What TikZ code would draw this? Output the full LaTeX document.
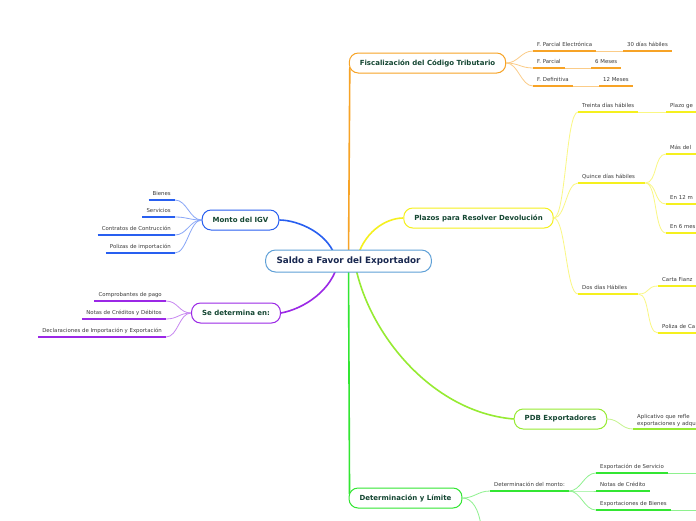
\documentclass[tikz,border=0pt]{standalone}
\usepackage{fontspec}
\setmainfont{DejaVu Sans}
\usetikzlibrary{calc,backgrounds}

\definecolor{rootblue}{RGB}{95,160,215}
\definecolor{rootnavy}{RGB}{25,40,80}
\definecolor{topictext}{RGB}{20,70,50}
\definecolor{leafgray}{RGB}{60,60,60}
\definecolor{fiscorange}{RGB}{247,163,38}
\definecolor{plazoyellow}{RGB}{245,240,30}
\definecolor{pdblime}{RGB}{150,235,50}
\definecolor{detgreen}{RGB}{50,230,50}
\definecolor{igvblue}{RGB}{40,95,240}
\definecolor{sepurple}{RGB}{155,40,230}

\tikzset{
  root/.style={draw=rootblue, line width=1pt, rounded corners=10pt, fill=white, text=rootnavy,
    font=\bfseries\fontsize{8.8}{10}\selectfont, minimum height=22pt, inner xsep=11pt},
  topic/.style={draw=#1, line width=1pt, rounded corners=9pt, fill=white, text=topictext,
    font=\bfseries\fontsize{7}{8}\selectfont, minimum height=20pt, inner xsep=10.5pt},
  leaf/.style={text=leafgray, font=\fontsize{5.4}{6.5}\selectfont, inner xsep=4pt, inner ysep=2.5pt},
  uline/.style={draw=#1, line width=2pt},
  twig/.style={draw=#1!55, line width=0.8pt},
  limb/.style={draw=#1, line width=1.6pt},
}

% leaf text with its coloured underline
\newcommand{\leafnode}[5][]{%
  \node[leaf, text height=4pt, text depth=1.5pt, #1] (#2) at (#4) {#5};
  \draw[uline=#3] (#2.south west) -- (#2.south east);
}

\begin{document}
\begin{tikzpicture}[x=1pt, y=-1pt]
  %%%%% FRAME %%%%%
  \clip (0,0) rectangle (696,520);

  %%%%% CENTRE AND TOPICS %%%%%
  \node[root] (root) at (348.5,261) {Saldo a Favor del Exportador};
  \node[topic=fiscorange] (fisc) at (427.5,63) {Fiscalización del Código Tributario};
  \node[topic=plazoyellow] (plazos) at (478.5,218) {Plazos para Resolver Devolución};
  \node[topic=pdblime] (pdb) at (560.5,419) {PDB Exportadores};
  \node[topic=detgreen] (det) at (405.5,498) {Determinación y Límite};
  \node[topic=igvblue] (monto) at (240.5,220) {Monto del IGV};
  \node[topic=sepurple] (se) at (236,313) {Se determina en:};

  %%%%% FISCALIZACION %%%%%
  \leafnode[anchor=south west]{fpe}{fiscorange}{533,51}{F. Parcial Electrónica}
  \leafnode[anchor=south west]{d30}{fiscorange}{623,51}{30 días hábiles}
  \leafnode[anchor=south west]{fp}{fiscorange}{533,68}{F. Parcial}
  \leafnode[anchor=south west]{m6}{fiscorange}{591,68}{6 Meses}
  \leafnode[anchor=south west]{fd}{fiscorange}{533,86}{F. Definitiva}
  \leafnode[anchor=south west]{m12}{fiscorange}{599,86}{12 Meses}

  %%%%% PLAZOS %%%%%
  \leafnode[anchor=south west]{treinta}{plazoyellow}{578,112}{Treinta días hábiles}
  \leafnode[anchor=south west, text width=60pt]{plazoge}{plazoyellow}{666,112}{Plazo ge}
  \leafnode[anchor=south west, text width=59pt]{quince}{plazoyellow}{578,183}{Quince días hábiles}
  \leafnode[anchor=south west, text width=60pt]{masdel}{plazoyellow}{666,154}{Más del}
  \leafnode[anchor=south west, text width=60pt]{en12}{plazoyellow}{666,204}{En 12 m}
  \leafnode[anchor=south west, text width=60pt]{en6}{plazoyellow}{666,233}{En 6 mes}
  \leafnode[anchor=south west, text width=52pt]{dos}{plazoyellow}{578,294}{Dos días Hábiles}
  \leafnode[anchor=south west, text width=60pt]{carta}{plazoyellow}{658,286}{Carta Fianz}
  \leafnode[anchor=south west, text width=60pt]{poliza}{plazoyellow}{658,333}{Poliza de Ca}

  %%%%% PDB %%%%%
  \node[leaf, anchor=south west, align=left, text width=60pt, font=\fontsize{5.4}{7}\selectfont]
    (aplic) at (633,429) {Aplicativo que refle\\exportaciones y adqu};
  \draw[uline=pdblime] (aplic.south west) -- (aplic.south east);

  %%%%% DETERMINACION %%%%%
  \leafnode[anchor=south west]{detm}{detgreen}{490,491}{Determinación del monto:}
  \leafnode[anchor=south west]{expser}{detgreen}{596,473}{Exportación de Servicio}
  \leafnode[anchor=south west]{notas}{detgreen}{596,491}{Notas de Crédito}
  \leafnode[anchor=south west]{expbien}{detgreen}{596,510}{Exportaciones de Bienes}
  \coordinate (expserend) at (700,473);
  \coordinate (expbienend) at (700,510);
  \coordinate (detdown) at (481,526);

  %%%%% MONTO DEL IGV %%%%%
  \leafnode[anchor=south east]{bienes}{igvblue}{175,200}{Bienes}
  \leafnode[anchor=south east]{servicios}{igvblue}{175,217}{Servicios}
  \leafnode[anchor=south east]{contratos}{igvblue}{175,235}{Contratos de Contrucción}
  \leafnode[anchor=south east]{polizas}{igvblue}{175,253}{Polizas de importación}

  %%%%% SE DETERMINA EN %%%%%
  \leafnode[anchor=south east]{comp}{sepurple}{166,301}{Comprobantes de pago}
  \leafnode[anchor=south east]{notascd}{sepurple}{166,319}{Notas de Créditos y Débitos}
  \leafnode[anchor=south east]{decl}{sepurple}{166,337}{Declaraciones de Importación y Exportación}

  \begin{scope}[on background layer]
    \fill[white] (0,0) rectangle (696,520);

    % limbs from the centre
    \draw[limb=fiscorange] (root.center) -- ($(fisc.west)+(1,4)$);
    \draw[limb=plazoyellow] ($(root.center)+(8,0)$) .. controls +(6,-28) and +(-18,0) .. (plazos.west);
    \draw[limb=igvblue] ($(root.center)+(-12,0)$) .. controls +(-6,-28) and +(18,0) .. (monto.east);
    \draw[limb=sepurple] ($(root.center)+(-10,0)$) .. controls +(-6,30) and +(22,-4) .. (se.east);
    \draw[limb=pdblime] ($(root.center)+(6,0)$) .. controls (366,330) and (430,412) .. (pdb.west);
    \draw[limb=detgreen] (root.center) -- ($(det.west)+(1,-4)$);

    % fiscalizacion
    \draw[twig=fiscorange] (fisc.east) .. controls +(12,0) and +(-12,0) .. (fpe.south west);
    \draw[twig=fiscorange] (fisc.east) .. controls +(12,0) and +(-12,0) .. (fp.south west);
    \draw[twig=fiscorange] (fisc.east) .. controls +(12,0) and +(-12,0) .. (fd.south west);
    \draw[twig=fiscorange] (fpe.south east) -- (d30.south west);
    \draw[twig=fiscorange] (fp.south east) -- (m6.south west);
    \draw[twig=fiscorange] (fd.south east) -- (m12.south west);

    % plazos
    \draw[twig=plazoyellow] (plazos.east) .. controls +(12,0) and +(-12,0) .. (treinta.south west);
    \draw[twig=plazoyellow] (plazos.east) .. controls +(12,0) and +(-12,0) .. (quince.south west);
    \draw[twig=plazoyellow] (plazos.east) .. controls +(12,0) and +(-12,0) .. (dos.south west);
    \draw[twig=plazoyellow] (treinta.south east) -- (plazoge.south west);
    \draw[twig=plazoyellow] (quince.south east) .. controls +(12,0) and +(-12,0) .. (masdel.south west);
    \draw[twig=plazoyellow] (quince.south east) .. controls +(12,0) and +(-12,0) .. (en12.south west);
    \draw[twig=plazoyellow] (quince.south east) .. controls +(12,0) and +(-12,0) .. (en6.south west);
    \draw[twig=plazoyellow] (dos.south east) .. controls +(12,0) and +(-12,0) .. (carta.south west);
    \draw[twig=plazoyellow] (dos.south east) .. controls +(12,0) and +(-12,0) .. (poliza.south west);

    % pdb
    \draw[twig=pdblime] (pdb.east) .. controls +(12,0) and +(-12,0) .. (aplic.south west);

    % determinacion
    \draw[twig=detgreen] (det.east) .. controls +(12,0) and +(-12,0) .. (detm.south west);
    \draw[twig=detgreen] (det.east) .. controls +(10,0) and +(-2,-16) .. (detdown);
    \draw[twig=detgreen] (detm.south east) .. controls +(12,0) and +(-12,0) .. (expser.south west);
    \draw[twig=detgreen] (detm.south east) .. controls +(12,0) and +(-12,0) .. (notas.south west);
    \draw[twig=detgreen] (detm.south east) .. controls +(12,0) and +(-12,0) .. (expbien.south west);
    \draw[twig=detgreen] (expser.south east) -- (expserend);
    \draw[twig=detgreen] (expbien.south east) -- (expbienend);

    % monto del igv
    \draw[twig=igvblue] (monto.west) .. controls +(-12,0) and +(12,0) .. (bienes.south east);
    \draw[twig=igvblue] (monto.west) .. controls +(-12,0) and +(12,0) .. (servicios.south east);
    \draw[twig=igvblue] (monto.west) .. controls +(-12,0) and +(12,0) .. (contratos.south east);
    \draw[twig=igvblue] (monto.west) .. controls +(-12,0) and +(12,0) .. (polizas.south east);

    % se determina en
    \draw[twig=sepurple] (se.west) .. controls +(-12,0) and +(12,0) .. (comp.south east);
    \draw[twig=sepurple] (se.west) .. controls +(-12,0) and +(12,0) .. (notascd.south east);
    \draw[twig=sepurple] (se.west) .. controls +(-12,0) and +(12,0) .. (decl.south east);
  \end{scope}
\end{tikzpicture}
\end{document}
